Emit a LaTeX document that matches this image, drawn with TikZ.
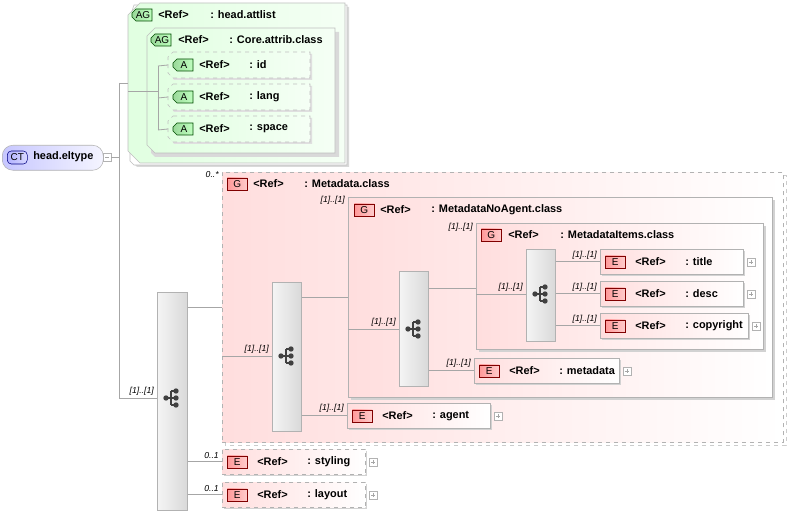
\documentclass[tikz,border=0pt]{standalone}
\usepackage{fontspec}
\setmainfont{Liberation Sans}
\begin{document}
\begin{tikzpicture}[x=0.75pt,y=-0.75pt,
  txt/.style={font=\fontsize{8.2}{9}\selectfont\bfseries,inner sep=0,anchor=west},
  mult/.style={font=\fontsize{6.5}{7}\selectfont\itshape,inner sep=0,anchor=south east},
  conn/.style={draw=gray!70,line width=0.6pt},
  pinkbox/.style={left color=red!13,right color=white,draw=gray!60},
  greenbox/.style={left color=green!12,right color=green!4,draw=gray!50},
  seqbox/.style={left color=gray!8,right color=gray!30,draw=gray!60,anchor=north west,inner sep=0},
]
\useasboundingbox (0,0) rectangle (790,513);
\fill[white] (0,0) rectangle (790,513);
\newcommand\pbadge[3]{\node[draw=red!50!black,left color=red!40,right color=red!20,minimum width=20*0.75pt,minimum height=12*0.75pt,inner sep=0,font=\fontsize{7.5}{8}\selectfont,anchor=west] at (#1,#2) {#3};}
\newcommand\gbadge[3]{\draw[draw=green!30!black,left color=green!45!gray!55,right color=green!25] (#1+4,#2-6)--(#1+20,#2-6)--(#1+20,#2+6)--(#1+4,#2+6)--(#1,#2+2)--(#1,#2-2)--cycle; \node[font=\fontsize{7.5}{8}\selectfont,inner sep=0] at (#1+11,#2) {#3};}
\newcommand\hdr[4]{\node[txt] at (#1+30,#2) {<Ref>}; \node[txt] at (#1+80,#2) {: #3};}
\newcommand\plusbox[2]{\draw[gray!60,fill=white] (#1,#2-4) rectangle (#1+8,#2+4); \draw[gray!70] (#1+2,#2)--(#1+6,#2) (#1+4,#2-2)--(#1+4,#2+2);}
\newcommand\seqicon[2]{\fill[black!75] (#1-6,#2) circle (2pt); \draw[black!75,line width=0.8pt] (#1-6,#2)--(#1-1,#2) (#1-1,#2-7)--(#1-1,#2+7) (#1-1,#2-7)--(#1+3,#2-7) (#1-1,#2+7)--(#1+3,#2+7) (#1-1,#2)--(#1+3,#2); \fill[black!75] (#1+4,#2-7) circle (2pt) (#1+4,#2) circle (2pt) (#1+4,#2+7) circle (2pt);}
\newcommand\elem[6]{\fill[gray!35] (#2+2,#3+2) rectangle (#2+#4+2,#3+27);
  \node[pinkbox,#6,anchor=north west,minimum width=#4*0.75pt,minimum height=25*0.75pt,inner sep=0] (#1) at (#2,#3) {};
  \pbadge{#2+5}{#3+13}{E} \hdr{#2+5}{#3+13}{#5}{} \plusbox{#2+#4+4}{#3+13}}
\newcommand\attr[5]{\fill[gray!25] (#2+6,#3+2)--(#2+#4+2,#3+2)--(#2+#4+2,#3+28)--(#2+6,#3+28)--(#2+2,#3+22)--(#2+2,#3+8)--cycle;
  \path[greenbox,dashed] (#2+5,#3)--(#2+#4,#3)--(#2+#4,#3+26)--(#2+5,#3+26)--(#2,#3+21)--(#2,#3+5)--cycle;
  \coordinate (#1) at (#2,#3+13);
  \gbadge{#2+5}{#3+13}{A} \hdr{#2+1}{#3+13}{#5}{}}

% ---- CT
\node[draw=gray!60,left color=blue!22,right color=blue!4,rounded corners=8pt,minimum width=101*0.75pt,minimum height=25*0.75pt,anchor=north west,inner sep=0] (ct) at (2,145) {};
\node[draw=blue!50!black,left color=blue!30,right color=blue!15,rounded corners=3pt,minimum width=20*0.75pt,minimum height=13*0.75pt,inner sep=0,font=\fontsize{7.5}{8}\selectfont,anchor=west] at (7,157.5) {CT};
\node[txt] at (33,157) {head.eltype};
\draw[gray!60,fill=white] (103,153) rectangle (111,161); \draw[gray!70] (105,157)--(109,157);
\coordinate (trunk) at (119,157);
\draw[conn] (111,157)--(trunk);
\draw[conn] (119,83)--(119,398);

% ---- AG head.attlist
\fill[gray!30] (137,7)--(349,7)--(349,167)--(137,167)--(132,162)--(132,19)--cycle;
\fill[white] (134,5)--(347,5)--(347,165)--(134,165)--(130,161)--(130,17)--cycle;
\draw[gray!50] (134,5)--(347,5)--(347,165)--(134,165)--(130,161)--(130,17)--cycle;
\path[greenbox] (140,3)--(345,3)--(345,163)--(140,163)--(128,151)--(128,15)--cycle;
\coordinate (ag1) at (128,83);
\gbadge{132}{15}{AG} \node[txt] at (158,15) {<Ref>}; \node[txt] at (210,15) {: head.attlist};
\fill[gray!30] (155,32)--(339,32)--(339,157)--(155,157)--(151,153)--(151,44)--cycle;
\path[greenbox] (155,28)--(335,28)--(335,153)--(155,153)--(147,145)--(147,36)--cycle;
\coordinate (ag2) at (147,91);
\gbadge{151}{40}{AG} \node[txt] at (178,40) {<Ref>}; \node[txt] at (229,40) {: Core.attrib.class};
\attr{aid}{168}{52}{142}{id}{}
\attr{alang}{168}{84}{142}{lang}{}
\attr{aspace}{168}{116}{142}{space}{}
\draw[conn] (119,83)--(ag1);
\draw[conn] (128,91)--(158,91);
\draw[conn] (158,66)--(158,130);
\draw[conn] (158,66)--(aid); \draw[conn] (158,98)--(alang); \draw[conn] (158,130)--(aspace);

% ---- main sequence
\node[seqbox,minimum width=30*0.75pt,minimum height=218*0.75pt] (s1) at (157,292) {};
\seqicon{172}{398}
\draw[conn] (119,398)--(s1.west|-0,398); \node[mult] at (154,396) {[1]..[1]};

% ---- Metadata.class group
\node[pinkbox,dashed,draw=gray!60,anchor=north west,minimum width=561*0.75pt,minimum height=270*0.75pt,inner sep=0] (gmeta) at (222,172) {};
\draw[gray!40,dashed] (784,175)--(786,175)--(786,445)--(225,445)--(225,443);
\pbadge{227}{184}{G} \node[txt] at (253,184) {<Ref>}; \node[txt] at (304,184) {: Metadata.class};
\node[mult] at (219,178) {0..*};
\draw[conn] (s1.east|-0,307)--(gmeta.west|-0,307);

\node[seqbox,minimum width=29*0.75pt,minimum height=149*0.75pt] (s2) at (272,282) {};
\seqicon{287}{356}
\draw[conn] (222,356)--(s2.west|-0,356); \node[mult] at (269,354) {[1]..[1]};

\fill[gray!35] (351,200) rectangle (775,400);
\node[pinkbox,anchor=north west,minimum width=424*0.75pt,minimum height=200*0.75pt,inner sep=0] (gnoag) at (348,197) {};
\pbadge{354}{210}{G} \node[txt] at (380,210) {<Ref>}; \node[txt] at (431,210) {: MetadataNoAgent.class};
\node[mult] at (345,205) {[1]..[1]};
\draw[conn] (s2.east|-0,297)--(gnoag.west|-0,297);

\elem{agent}{347}{403}{143}{agent}{}
\draw[conn] (s2.east|-0,415)--(agent.west|-0,415); \node[mult] at (344,413) {[1]..[1]};

\node[seqbox,minimum width=29*0.75pt,minimum height=115*0.75pt] (s3) at (399,271) {};
\seqicon{414}{329}
\draw[conn] (348,329)--(s3.west|-0,329); \node[mult] at (396,327) {[1]..[1]};

\fill[gray!35] (479,226) rectangle (766,352);
\node[pinkbox,anchor=north west,minimum width=287*0.75pt,minimum height=126*0.75pt,inner sep=0] (gitems) at (476,223) {};
\pbadge{481}{235}{G} \node[txt] at (508,235) {<Ref>}; \node[txt] at (560,235) {: MetadataItems.class};
\node[mult] at (473,232) {[1]..[1]};
\draw[conn] (s3.east|-0,288)--(gitems.west|-0,288);

\elem{meta}{474}{358}{145}{metadata}{}
\draw[conn] (s3.east|-0,370)--(meta.west|-0,370); \node[mult] at (471,368) {[1]..[1]};

\node[seqbox,minimum width=29*0.75pt,minimum height=92*0.75pt] (s4) at (526,249) {};
\seqicon{541}{294}
\draw[conn] (476,294)--(s4.west|-0,294); \node[mult] at (523,292) {[1]..[1]};

\elem{title}{600}{249}{143}{title}{}
\elem{desc}{600}{281}{143}{desc}{}
\elem{copy}{600}{313}{148}{copyright}{}
\draw[conn] (s4.east|-title.west)--(title.west); \node[mult] at (597,260) {[1]..[1]};
\draw[conn] (s4.east|-desc.west)--(desc.west); \node[mult] at (597,292) {[1]..[1]};
\draw[conn] (s4.east|-copy.west)--(copy.west); \node[mult] at (597,324) {[1]..[1]};

\elem{styling}{222}{449}{143}{styling}{dashed}
\elem{layout}{222}{482}{143}{layout}{dashed}
\draw[conn] (s1.east|-styling.west)--(styling.west); \node[mult] at (219,459) {0..1};
\draw[conn] (s1.east|-layout.west)--(layout.west); \node[mult] at (219,492) {0..1};
\end{tikzpicture}
\end{document}
